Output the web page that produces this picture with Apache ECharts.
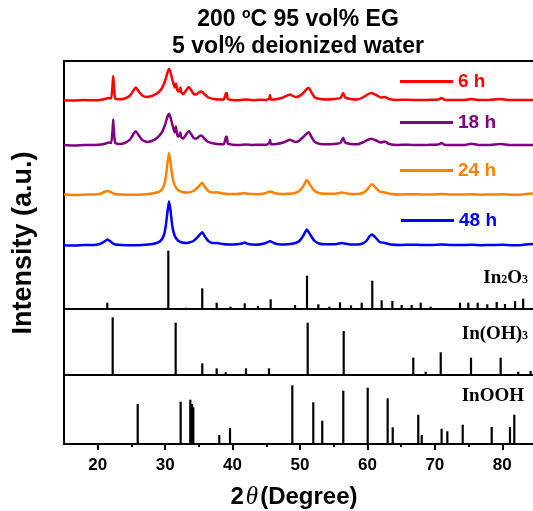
<!DOCTYPE html>
<html>
<head>
<meta charset="utf-8">
<script src="https://cdn.jsdelivr.net/npm/echarts@6/dist/echarts.min.js"></script>
<style>
  html, body { margin: 0; padding: 0; background: #fff; }
  #xrd { width: 533px; height: 511px; }
</style>
</head>
<body>
<div id="xrd"></div>
<script>
  // measured patterns: [2theta, intensity above the curve's own baseline]
  var h6 = [[15,0.3],[16.5,0],[18,0.5],[19.5,0.2],[20.5,0.8],[21.2,1.8],[21.6,2.5],[22.0,2],[22.2,15],[22.3,24.5],[22.4,14],[22.6,2],
    [23.2,1.2],[24.0,2],[24.8,5],[25.3,10],[25.65,13],[26.1,9],[26.6,5],[27.3,3.5],[28.0,4.5],[28.8,7],[29.5,12],[30.0,20],
    [30.35,28],[30.57,31.4],[30.8,28],[31.1,20],[31.4,13],[31.6,17],[31.75,12],[31.9,9],[32.1,10],[32.26,13],[32.4,8],[32.7,6.5],
    [33.1,10],[33.5,13.5],[33.9,10],[34.3,6],[34.7,6.5],[35.1,8.5],[35.4,9],[35.8,6.5],[36.4,3],[37.2,1.5],[38.0,1],[38.7,1],
    [39.0,7],[39.15,7.5],[39.3,1.5],[40,0.5],[41,0.3],[42,1],[43,0.3],[44,0.8],[45,0.5],[45.45,2],[45.55,5.5],[45.7,1],
    [46.5,1.2],[47.5,3],[48.5,6],[49.3,3.5],[49.8,4],[50.4,7],[51.0,11.5],[51.3,12.5],[51.7,8],[52.2,3],[53,1.5],[54,1],
    [55,1.5],[56,2.5],[56.4,7.5],[56.7,3],[57.5,1.5],[58.5,1],[59.3,3],[60,6],[60.6,7.5],[61.3,5.5],[62.0,3],[62.6,3.5],
    [63.2,1.5],[64.5,0.5],[66,0.8],[67.5,0.4],[69,0.6],[70.5,1],[71,2.5],[71.4,0.8],[73,0.4],[74.5,0.5],[75.4,1.5],[76.5,0.4],
    [78,0.5],[79.8,1.5],[81,0.4],[83,0.6],[85,0.5]];
  var h18 = [[15,0.5],[16.5,0],[18,0.4],[19.5,0.5],[20.5,1],[21.2,2],[21.6,3],[22.0,2.5],[22.2,15],[22.3,26],[22.4,14],[22.6,2.5],
    [23.2,1.5],[24.0,2.5],[24.8,6],[25.3,11.5],[25.65,14.3],[26.1,10],[26.6,5.5],[27.3,3.5],[28.0,4.5],[28.8,7.5],[29.5,13],[30.0,21],
    [30.35,29],[30.57,31.7],[30.8,28],[31.1,20],[31.4,13],[31.6,19],[31.75,12],[31.9,9],[32.1,10],[32.26,13],[32.4,8],[32.7,7],
    [33.1,11],[33.5,14.5],[33.9,11],[34.3,7],[34.7,7],[35.1,9.5],[35.4,10],[35.8,7],[36.4,3.5],[37.2,2],[38.0,1.2],[38.7,1.2],
    [39.0,8],[39.15,8.7],[39.3,2],[40,0.8],[41,0.5],[42,1],[43,0.5],[44,0.8],[45,0.8],[45.45,2.5],[45.55,5.7],[45.7,1.2],
    [46.5,1.5],[47.5,3],[48.5,5.7],[49.3,3.5],[49.8,4.5],[50.4,8],[51.0,12],[51.3,13.3],[51.7,8.5],[52.2,3.5],[53,1.5],[54,1.2],
    [55,1.5],[56,2.5],[56.4,7.7],[56.7,3],[57.5,1.5],[58.5,1.2],[59.3,3],[60,5.5],[60.6,6.7],[61.3,5],[62.0,3],[62.6,4],
    [63.2,1.5],[64.5,0.5],[66,0.8],[67.5,0.4],[69,0.6],[70.5,1],[71,2.5],[71.4,0.8],[73,0.4],[74.5,0.6],[75.4,1.8],[76.5,0.5],
    [78,0.5],[79.8,1.5],[81,0.5],[83,0.6],[85,0.5]];
  var h24 = [[15,0.5],[17,0],[18.5,0.5],[19.5,0.5],[20.5,1.5],[21.1,3.5],[21.45,4],[21.9,3],[22.5,1],[23.5,0.5],[25,0.3],[26.5,0.6],
    [27.5,1],[28.5,2],[29.3,4],[29.8,9],[30.1,18],[30.35,32],[30.57,42.3],[30.8,33],[31.05,19],[31.4,10],[31.9,5],[32.5,3],
    [33.3,2.5],[34.2,4],[34.9,8],[35.5,12.3],[35.9,8],[36.4,4],[37.0,2.5],[37.7,2.7],[38.5,1.5],[39.5,1],[40.6,1],[41.4,1.5],
    [41.8,2],[42.3,1.2],[43.5,0.8],[44.7,1.5],[45.6,3.5],[46.3,1.8],[47.2,1],[48.2,1.2],[49.2,2],[49.9,4],[50.5,9],[51.0,15],
    [51.5,10],[52.1,4.5],[52.8,2],[53.8,1.2],[55,1.2],[56.2,2.5],[56.6,2],[57.5,1],[58.5,1],[59.3,2],[59.9,5],[60.35,9],
    [60.72,10.7],[61.2,7.5],[61.8,3.5],[62.6,2.5],[63.5,1],[65,0.5],[66.5,0.8],[68,0.5],[69.5,0.5],[71,1],[72.5,0.4],[74,0.5],
    [75.5,0.8],[77,0.3],[78.5,0.5],[80,0.8],[81.5,0.3],[83,0.5],[84.2,1.5],[85,1]];
  var h48 = [[15,0.3],[16.5,0],[18,0.4],[19.5,0.5],[20.5,2],[21.1,4.5],[21.45,6],[21.9,4],[22.5,1.2],[23.5,0.5],[25,0.3],[26.5,0.6],
    [27.5,1],[28.5,2],[29.3,4.5],[29.8,10],[30.1,20],[30.35,34],[30.57,44.3],[30.8,35],[31.05,20],[31.4,10],[31.9,5],[32.5,3],
    [33.3,2.5],[34.2,4.5],[34.9,9],[35.5,13.3],[35.9,9],[36.4,4.5],[37.0,2.5],[37.7,2.5],[38.5,1.5],[39.5,1],[40.6,1.2],[41.4,2],
    [41.8,3],[42.3,1.5],[43.5,0.8],[44.7,2],[45.6,4.3],[46.3,2],[47.2,1],[48.2,1.2],[49.2,2.2],[49.9,4.5],[50.5,10],[51.0,16],
    [51.5,11],[52.1,5],[52.8,2],[53.8,1.2],[55,1.2],[56.2,2.5],[56.6,2],[57.5,1],[58.5,1],[59.3,2],[59.9,5],[60.35,9.5],
    [60.72,11],[61.2,8],[61.8,3.5],[62.6,2.5],[63.5,1],[65,0.5],[66.5,0.8],[68,0.5],[69.5,0.5],[71,1],[72.5,0.4],[74,0.5],
    [75.5,0.8],[77,0.3],[78.5,0.5],[80,0.8],[81.5,0.3],[83,0.5],[84.2,1.5],[85,1]];

  // reference cards (stick positions and heights)
  var in2o3Ref = [[21.42,6.3],[30.47,58.3],[33.1,1.3],[35.5,20.7],[37.64,6.3],[39.7,2.3],[41.8,5.7],[43.77,3],[45.65,9.7],
    [49.26,4],[51.04,33.3],[52.72,4.7],[54.35,2.3],[55.93,6.7],[57.56,3.7],[59.15,6.3],[60.72,28.3],[62.11,8.7],[63.7,8],
    [65.08,4],[66.56,4],[67.9,6.3],[69.38,2.3],[73.73,6.3],[74.96,6.3],[76.35,6.3],[77.78,4.7],[79.17,7],[80.4,5],[81.9,8],[83.1,10.3]];
  var inoh3Ref = [[22.22,57.7],[31.56,52.3],[35.51,11.7],[37.64,6.7],[38.98,2.7],[41.99,6.7],[45.4,6.7],[51.14,52.3],[56.48,44],
    [66.8,17.3],[68.64,3.3],[70.87,22.7],[75.36,17.3],[79.76,17.3],[82.37,3.3],[84.2,4]];
  var inoohRef = [[25.93,40],[32.3,42.3],[33.73,44.3],[34.0,40],[34.18,36.7],[38.03,9],[39.62,16],[48.86,58.7],[51.97,41.7],
    [53.3,23.3],[56.42,53.3],[60.04,56.3],[63.0,45.7],[63.75,16.7],[67.54,29.3],[68.05,9],[71.0,15.3],[71.85,12.7],[74.13,19.3],
    [78.43,17],[81.14,17],[81.78,29.3]];

  var majorTicks = [20, 30, 40, 50, 60, 70, 80];
  var minorTicks = [25, 35, 45, 55, 65, 75];
  var legendNames = ['6 h', '18 h', '24 h', '48 h'];
  var colors = ['#ff0000', '#800080', '#ff8000', '#0000ff'];

  var sans = '"Liberation Sans", Arial, sans-serif';
  var serif = '"Liberation Serif", "Times New Roman", serif';

  // vertical stacking of the measured curves in the top panel
  var curves = [h6, h18, h24, h48];
  var offsets = [208.5, 163.5, 114, 63.5];

  function shift(arr, off) {
    return arr.map(function (p) { return [p[0], p[1] + off]; });
  }

  var gridBase = { left: 64, width: 472, show: true, borderColor: '#000', borderWidth: 2,
    backgroundColor: 'transparent', outerBoundsMode: 'none', containLabel: false };
  var grids = [
    Object.assign({ top: 61, height: 248 }, gridBase),
    Object.assign({ top: 309, height: 66 }, gridBase),
    Object.assign({ top: 375, height: 69 }, gridBase)
  ];

  function hiddenX(i) {
    return { type: 'value', gridIndex: i, min: 15, max: 85, show: false };
  }

  var xAxes = [hiddenX(0), hiddenX(1),
    {
      type: 'value', gridIndex: 2, min: 15, max: 85, position: 'bottom',
      axisLine: { show: true, lineStyle: { color: '#000', width: 2 } },
      axisTick: { show: true, customValues: majorTicks, length: 6, lineStyle: { color: '#000', width: 2 } },
      axisLabel: { customValues: majorTicks, color: '#000', fontWeight: 'bold', fontSize: 17, fontFamily: sans, margin: 13 },
      splitLine: { show: false }
    },
    {
      type: 'value', gridIndex: 2, min: 15, max: 85, position: 'bottom', offset: 0,
      axisLine: { show: false },
      axisTick: { show: true, customValues: minorTicks, length: 3, lineStyle: { color: '#000', width: 2 } },
      axisLabel: { show: false },
      splitLine: { show: false }
    }
  ];

  var yAxes = [
    { type: 'value', gridIndex: 0, min: 0, max: 248, show: false },
    { type: 'value', gridIndex: 1, min: 0, max: 66, show: false },
    { type: 'value', gridIndex: 2, min: 0, max: 69, show: false }
  ];

  var series = [];
  curves.forEach(function (c, i) {
    series.push({
      name: legendNames[i], type: 'line', xAxisIndex: 0, yAxisIndex: 0,
      data: shift(c, offsets[i]), showSymbol: false, symbol: 'none', smooth: 0.15,
      lineStyle: { color: colors[i], width: 2.5 }, itemStyle: { color: colors[i] }, silent: true
    });
  });
  [in2o3Ref, inoh3Ref, inoohRef].forEach(function (r, i) {
    series.push({
      type: 'bar', xAxisIndex: i, yAxisIndex: i, data: r, barWidth: 2.2,
      itemStyle: { color: '#000' }, silent: true
    });
  });

  var legendTops = [72, 113, 161, 211];
  var legendLefts = [400, 400, 400, 401];
  var legends = legendNames.map(function (n, i) {
    return {
      data: [n], left: legendLefts[i], top: legendTops[i], padding: 0, icon: 'rect',
      itemWidth: 53, itemHeight: 3, selectedMode: false,
      textStyle: { color: colors[i], fontWeight: 'bold', fontSize: 19, fontFamily: sans }
    };
  });

  var subRich = {
    b: { fontSize: 19, fontWeight: 'bold', fontFamily: serif, fill: '#000', lineHeight: 22, verticalAlign: 'bottom' },
    d: { fontSize: 12, fontWeight: 'bold', fontFamily: serif, fill: '#000', lineHeight: 22, verticalAlign: 'bottom', padding: [0, 0, 2, 0] }
  };

  var myChart = echarts.init(document.getElementById('xrd'), null, { renderer: 'canvas' });
  myChart.setOption({
    animation: false,
    grid: grids,
    xAxis: xAxes,
    yAxis: yAxes,
    legend: legends,
    series: series,
    graphic: [
      {
        type: 'text', x: 298, y: 20,
        style: {
          text: '{n|200 }{s|o}{n|C 95 vol% EG}', align: 'center', verticalAlign: 'middle',
          rich: {
            n: { fontSize: 23, fontWeight: 'bold', fontFamily: sans, fill: '#000', lineHeight: 26 },
            s: { fontSize: 14, fontWeight: 'bold', fontFamily: sans, fill: '#000', padding: [0, 0, 11, 0], lineHeight: 26 }
          }
        }
      },
      {
        type: 'text', x: 298, y: 47,
        style: { text: '5 vol% deionized water', align: 'center', verticalAlign: 'middle',
          font: 'bold 23px ' + sans, fill: '#000' }
      },
      {
        type: 'text', x: 24, y: 243, rotation: Math.PI / 2,
        style: { text: 'Intensity (a.u.)', align: 'center', verticalAlign: 'middle',
          font: 'bold 27px ' + sans, fill: '#000' }
      },
      {
        type: 'text', x: 294, y: 497,
        style: {
          text: '{a|2}{t|θ}{a|(Degree)}', align: 'center', verticalAlign: 'middle',
          rich: {
            a: { fontSize: 24, fontWeight: 'bold', fontFamily: sans, fill: '#000', lineHeight: 28 },
            t: { fontSize: 25, fontStyle: 'italic', fontFamily: serif, fill: '#000', lineHeight: 28, padding: [0, 2, 0, 2] }
          }
        }
      },
      {
        type: 'text', x: 528, y: 277,
        style: { text: '{b|In}{d|2}{b|O}{d|3}', align: 'right', verticalAlign: 'middle', rich: subRich }
      },
      {
        type: 'text', x: 528, y: 333,
        style: { text: '{b|In(OH)}{d|3}', align: 'right', verticalAlign: 'middle', rich: subRich }
      },
      {
        type: 'text', x: 524, y: 396,
        style: { text: 'InOOH', align: 'right', verticalAlign: 'middle', font: 'bold 19px ' + serif, fill: '#000' }
      }
    ]
  });
</script>
</body>
</html>
